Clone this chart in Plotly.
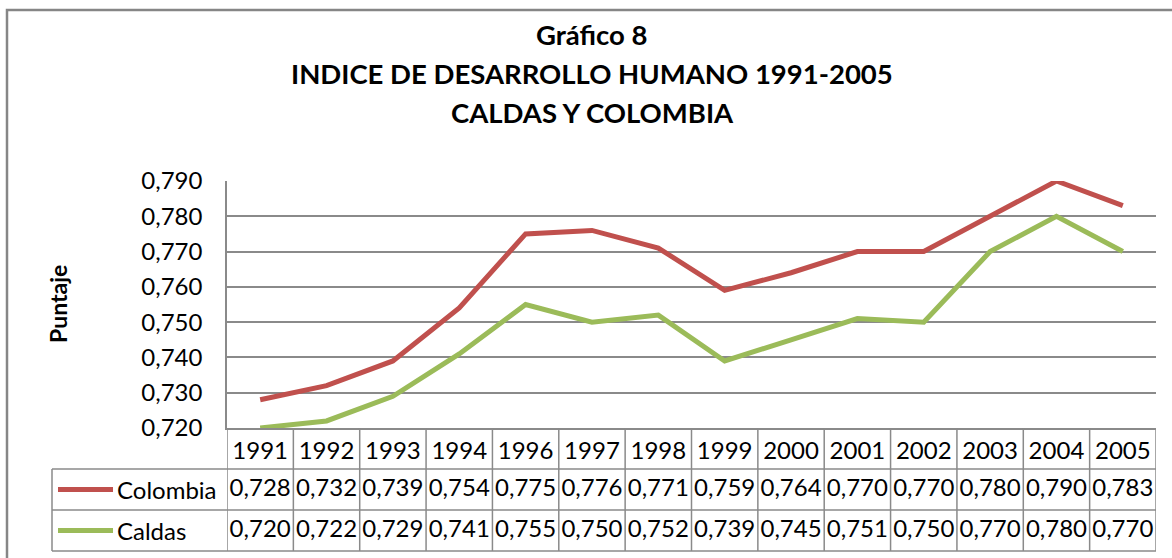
import plotly.graph_objects as go

# data
years = ["1991", "1992", "1993", "1994", "1996", "1997", "1998",
         "1999", "2000", "2001", "2002", "2003", "2004", "2005"]
colombia = [0.728, 0.732, 0.739, 0.754, 0.775, 0.776, 0.771,
            0.759, 0.764, 0.770, 0.770, 0.780, 0.790, 0.783]
caldas = [0.720, 0.722, 0.729, 0.741, 0.755, 0.750, 0.752,
          0.739, 0.745, 0.751, 0.750, 0.770, 0.780, 0.770]
series = [("Colombia", colombia, "#C0504D"), ("Caldas", caldas, "#9BBB59")]
title_lines = ["Gráfico 8", "INDICE DE DESARROLLO HUMANO 1991-2005", "CALDAS Y COLOMBIA"]

W, H = 1172, 558
FONT = "Lato"
GRID = "#8a8a8a"


def px_x(v):
    return v / W


def px_y(v):
    return 1 - v / H


# plot area / table geometry (pixels in the 1172x558 canvas)
plot_left, plot_right = 227, 1156
plot_top, plot_bottom = 181, 428
row_h = 41
table_left = 52
n_rows = len(series) + 1
table_bottom = plot_bottom + row_h * n_rows


def fmt(v):
    return f"{v:.3f}".replace(".", ",")


fig = go.Figure()
for name, vals, color in series:
    fig.add_trace(go.Scatter(
        x=years, y=vals, mode="lines", name=name,
        line=dict(color=color, width=5), showlegend=False,
    ))

# data table values, on a hidden axis pair below the plot (row 0 = header)
for r, (name, vals, color) in enumerate(series):
    fig.add_trace(go.Scatter(
        x=years, y=[r + 1.5] * len(years), mode="text",
        text=[fmt(v) for v in vals], textposition="middle center",
        textfont=dict(family=FONT, size=24, color="black"),
        xaxis="x2", yaxis="y2", showlegend=False, cliponaxis=False,
        hoverinfo="skip",
    ))

shapes = []
annotations = []

# vertical table lines at category boundaries
for i in range(len(years) + 1):
    shapes.append(dict(
        type="line", xref="x2", yref="y2",
        x0=i - 0.5, x1=i - 0.5, y0=0, y1=n_rows,
        line=dict(color=GRID, width=1.5),
    ))
# left edge of legend column
shapes.append(dict(
    type="line", xref="paper", yref="paper",
    x0=px_x(table_left), x1=px_x(table_left),
    y0=px_y(table_bottom), y1=px_y(plot_bottom + row_h),
    line=dict(color=GRID, width=1.5),
))
# horizontal row lines
for r in range(1, n_rows + 1):
    ry = plot_bottom + row_h * r
    shapes.append(dict(
        type="line", xref="paper", yref="paper",
        x0=px_x(table_left), x1=px_x(plot_right),
        y0=px_y(ry), y1=px_y(ry),
        line=dict(color=GRID, width=1.5),
    ))

# legend keys in the data table
for r, (name, vals, color) in enumerate(series):
    cy = plot_bottom + row_h * (r + 1.5)
    shapes.append(dict(
        type="line", xref="paper", yref="paper",
        x0=px_x(58), x1=px_x(113), y0=px_y(cy), y1=px_y(cy),
        line=dict(color=color, width=5),
    ))
    annotations.append(dict(
        text=name, xref="paper", yref="paper", x=px_x(115), y=px_y(cy),
        xanchor="left", yanchor="middle", showarrow=False,
        font=dict(family=FONT, size=24, color="black"),
    ))

# title, one annotation per line
for k, line in enumerate(title_lines):
    annotations.append(dict(
        text=f"<b>{line}</b>", xref="paper", yref="paper",
        x=592 / W, y=px_y(35 + 38.5 * k), xanchor="center", yanchor="middle",
        showarrow=False, font=dict(family=FONT, size=27.5, color="black"),
    ))

# y-axis title
annotations.append(dict(
    text="<b>Puntaje</b>", xref="paper", yref="paper",
    x=px_x(58), y=px_y(304), textangle=-90,
    xanchor="center", yanchor="middle", showarrow=False,
    font=dict(family=FONT, size=23, color="black"),
))

# outer chart frame
shapes.append(dict(
    type="rect", xref="paper", yref="paper",
    x0=px_x(7), x1=1.05, y0=-0.05, y1=px_y(10),
    line=dict(color="#868686", width=2.5),
))

fig.update_layout(
    width=W, height=H, autosize=False,
    margin=dict(l=0, r=0, t=0, b=0, autoexpand=False),
    paper_bgcolor="white", plot_bgcolor="white",
    separators=",.",
    font=dict(family=FONT, size=24, color="black"),
    xaxis=dict(
        domain=[px_x(plot_left), px_x(plot_right)],
        range=[-0.5, len(years) - 0.5], automargin=False,
        type="category", showgrid=False, zeroline=False,
        showline=True, linecolor=GRID, linewidth=1.5,
        ticks="", tickfont=dict(family=FONT, size=24),
    ),
    yaxis=dict(
        domain=[px_y(plot_bottom), px_y(plot_top)],
        range=[0.720, 0.790], dtick=0.01, tickformat=".3f", automargin=False,
        showgrid=True, gridcolor=GRID, gridwidth=1.5,
        zeroline=False, showline=True, linecolor=GRID, linewidth=1.5,
        ticks="", tickfont=dict(family=FONT, size=24),
        ticklabelstandoff=18,
    ),
    xaxis2=dict(
        domain=[px_x(plot_left), px_x(plot_right)],
        range=[-0.5, len(years) - 0.5], type="category", automargin=False,
        visible=False, anchor="y2",
    ),
    yaxis2=dict(
        domain=[px_y(table_bottom), px_y(plot_bottom)], automargin=False,
        range=[n_rows, 0], visible=False, anchor="x2",
    ),
    shapes=shapes,
    annotations=annotations,
)

fig.write_html(
    "out.html",
    config={"displayModeBar": False},
    post_script="document.body.style.margin='0';document.body.style.overflow='hidden';",
)
